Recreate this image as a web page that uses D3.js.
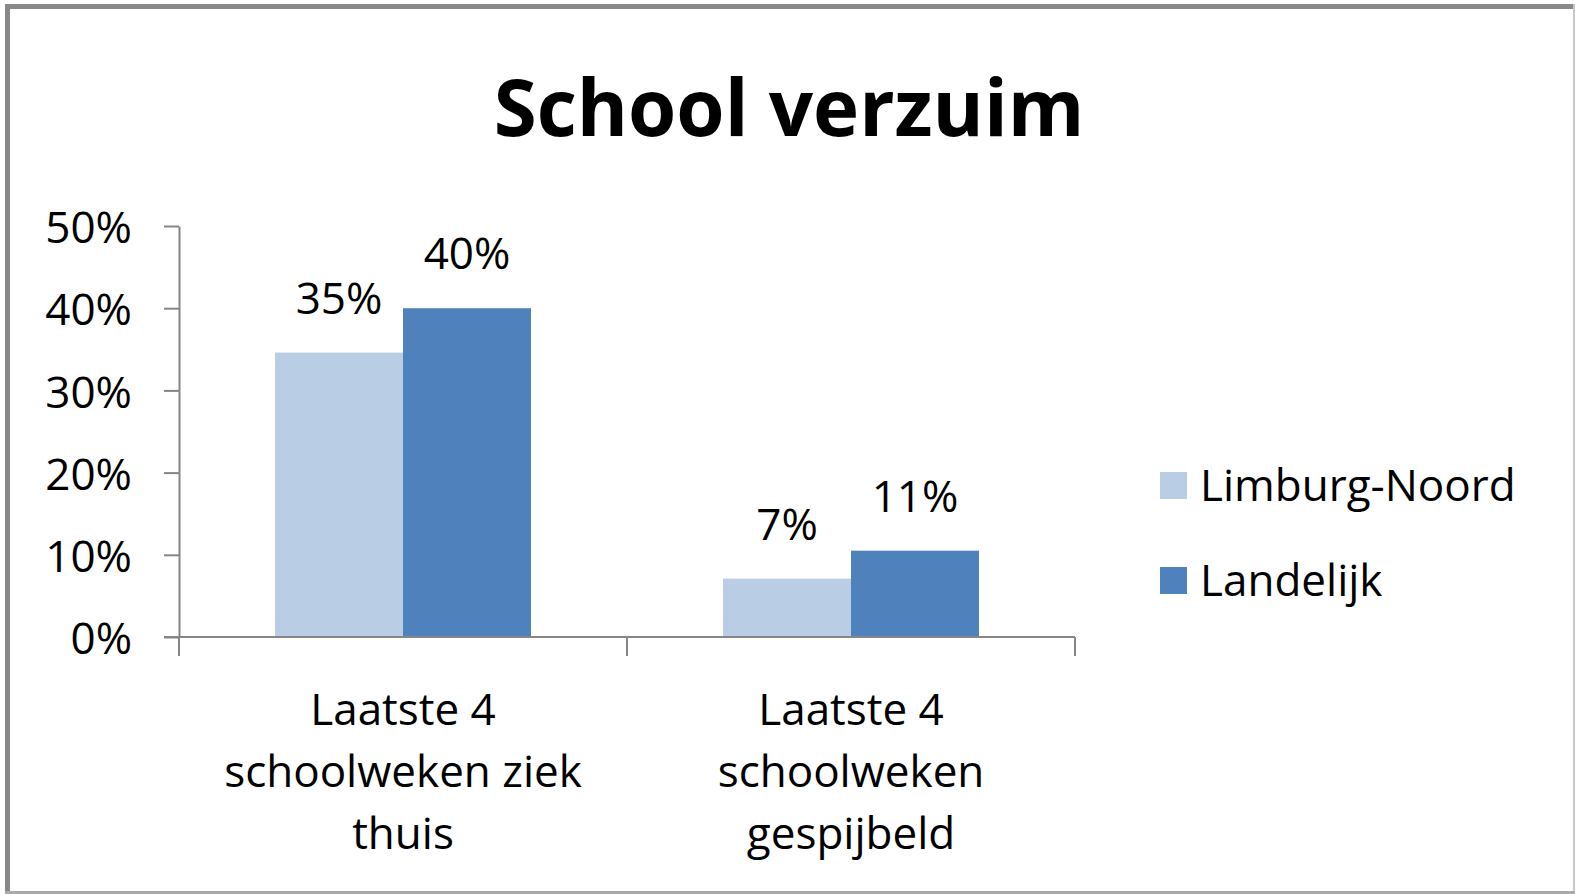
<!DOCTYPE html>
<html>
<head>
<meta charset="utf-8">
<script src="https://cdn.jsdelivr.net/npm/d3@7"></script>
<style>
  html, body { margin: 0; padding: 0; background: #fff; }
  svg { display: block; }
  text { font-family: "Open Sans", sans-serif; fill: #000; }
</style>
</head>
<body>
<svg id="chart" width="1575" height="894"></svg>
<script>
const title = "School verzuim";
const categories = [
  ["Laatste 4", "schoolweken ziek", "thuis"],
  ["Laatste 4", "schoolweken", "gespijbeld"]
];
const seriesNames = ["Limburg-Noord", "Landelijk"];
const limburgNoord = [34.6, 7.1];
const landelijk = [40.0, 10.5];
const labelsLimburg = ["35%", "7%"];
const labelsLandelijk = ["40%", "11%"];
const yTicks = [0, 10, 20, 30, 40, 50];
const colors = ["#B9CDE5", "#4F81BD"];

const series = [
  { name: seriesNames[0], values: limburgNoord, labels: labelsLimburg, color: colors[0] },
  { name: seriesNames[1], values: landelijk, labels: labelsLandelijk, color: colors[1] }
];

const W = 1575, H = 894;
const FS = "44px";
const svg = d3.select("#chart");

// frame
svg.append("rect").attr("x", 0).attr("y", 0).attr("width", W).attr("height", H).attr("fill", "#fff");
svg.append("line").attr("x1", 5).attr("x2", W).attr("y1", 6.5).attr("y2", 6.5).attr("stroke", "#888").attr("stroke-width", 5);
svg.append("line").attr("x1", 7.5).attr("x2", 7.5).attr("y1", 4).attr("y2", H).attr("stroke", "#888").attr("stroke-width", 5);
svg.append("line").attr("x1", W - 1).attr("x2", W - 1).attr("y1", 4).attr("y2", H).attr("stroke", "#c8c8c8").attr("stroke-width", 2);
svg.append("line").attr("x1", 5).attr("x2", W).attr("y1", H - 1.5).attr("y2", H - 1.5).attr("stroke", "#aaa").attr("stroke-width", 3);

// title
svg.append("text").attr("x", 789).attr("y", 136)
  .attr("text-anchor", "middle")
  .style("font-weight", "bold").style("font-size", "78px")
  .text(title);

const margin = { left: 179, top: 226, right: 500, bottom: 257 };
const w = W - margin.left - margin.right;
const h = H - margin.top - margin.bottom;
const g = svg.append("g").attr("transform", `translate(${margin.left},${margin.top})`);

const catKeys = categories.map((c, i) => i);
const x0 = d3.scaleBand().domain(catKeys).range([0, w]).paddingInner(3 / 7).paddingOuter(3 / 14);
const x1 = d3.scaleBand().domain(seriesNames).range([0, x0.bandwidth()]);
const y = d3.scaleLinear().domain([0, 50]).range([h, 0]);

const axisColor = "#868686";

// y axis
const yAxis = d3.axisLeft(y).tickValues(yTicks).tickSize(15).tickSizeOuter(0).tickPadding(32)
  .tickFormat(d => d + "%");
const ya = g.append("g").call(yAxis);
ya.select(".domain").attr("stroke", axisColor).attr("stroke-width", 2);
ya.selectAll(".tick line").attr("stroke", axisColor).attr("stroke-width", 2);
ya.selectAll(".tick text").style("font-size", FS).style("font-family", "Open Sans, sans-serif").attr("fill", "#000").attr("dy", "0.38em");

// bars
series.forEach(s => {
  g.selectAll(null).data(s.values).enter().append("rect")
    .attr("x", (d, i) => x0(i) + x1(s.name))
    .attr("y", d => y(d))
    .attr("width", x1.bandwidth())
    .attr("height", d => h - y(d))
    .attr("fill", s.color);
  g.selectAll(null).data(s.values).enter().append("text")
    .attr("x", (d, i) => x0(i) + x1(s.name) + x1.bandwidth() / 2)
    .attr("y", d => y(d) - 39)
    .attr("text-anchor", "middle")
    .style("font-size", FS)
    .text((d, i) => s.labels[i]);
});

// x axis baseline and category ticks
g.append("line").attr("x1", -15).attr("x2", w).attr("y1", h).attr("y2", h)
  .attr("stroke", axisColor).attr("stroke-width", 2);
const step = x0.step();
const boundaries = d3.range(categories.length + 1).map(i => i * step);
g.selectAll(null).data(boundaries).enter().append("line")
  .attr("x1", d => d).attr("x2", d => d)
  .attr("y1", h).attr("y2", h + 19)
  .attr("stroke", axisColor).attr("stroke-width", 2);

// category labels
categories.forEach((lines, i) => {
  const t = g.append("text").attr("text-anchor", "middle").style("font-size", FS);
  lines.forEach((ln, j) => {
    t.append("tspan").attr("x", x0(i) + x0.bandwidth() / 2).attr("y", h + 88 + j * 62).text(ln);
  });
});

// legend
const legend = svg.append("g").attr("transform", "translate(1160,472)");
series.forEach((s, i) => {
  legend.append("rect").attr("x", 0).attr("y", i * 95).attr("width", 27).attr("height", 27).attr("fill", s.color);
  legend.append("text").attr("x", 40).attr("y", i * 95 + 29).style("font-size", FS).text(s.name);
});
</script>
</body>
</html>
